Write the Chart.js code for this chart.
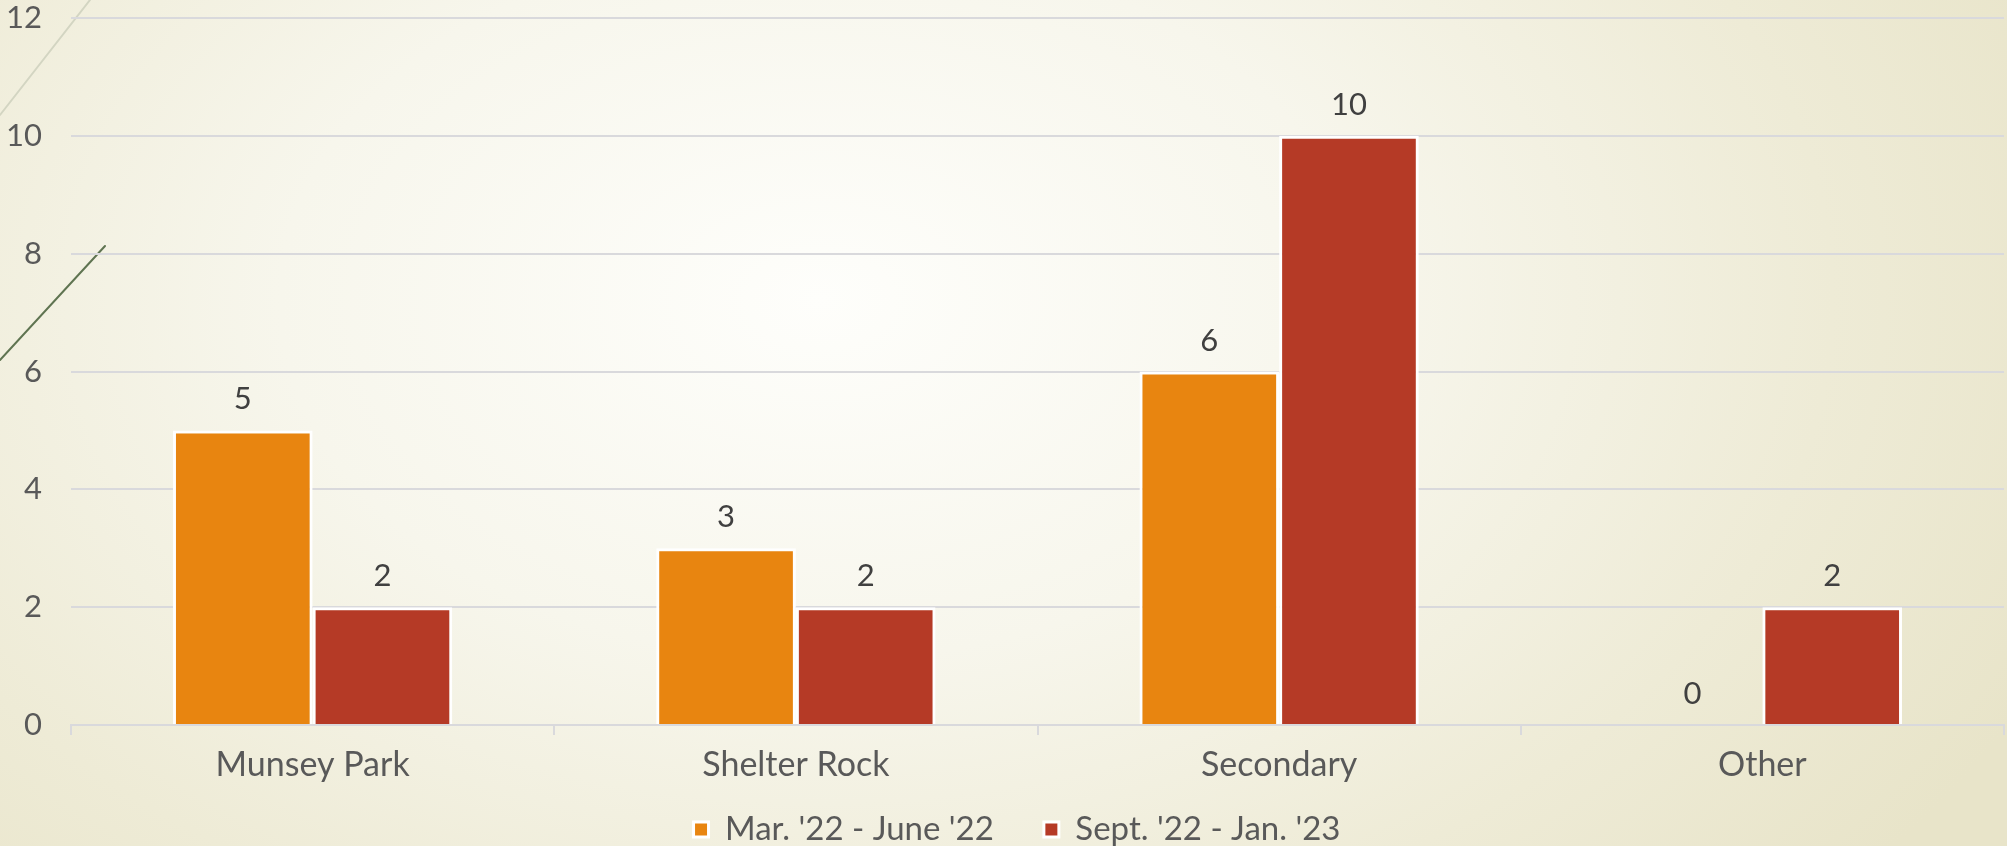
<!DOCTYPE html>
<html>
<head>
<meta charset="utf-8">
<script src="https://cdn.jsdelivr.net/npm/chart.js@4.4.1/dist/chart.umd.min.js"></script>
<style>
  html, body { margin: 0; padding: 0; }
  body { width: 2007px; height: 846px; overflow: hidden;
    background: radial-gradient(ellipse 1350px 900px at 820px 300px, #fefefb 0%, #f7f6ec 40%, #eeebd6 75%, #e8e4c9 100%); }
  #wrap { position: relative; width: 2007px; height: 846px; }
  canvas { display: block; }
</style>
</head>
<body>
<div id="wrap"><canvas id="c" width="2007" height="846"></canvas></div>
<script>
const categories = ["Munsey Park", "Shelter Rock", "Secondary", "Other"];
const seriesNames = ["Mar. '22 - June '22", "Sept. '22 - Jan. '23"];
const marJune22 = [5, 3, 6, 0];
const septJan23 = [2, 2, 10, 2];
const yTicks = [0, 2, 4, 6, 8, 10, 12];

const FONT = "Lato, 'Open Sans', sans-serif";

const decoPlugin = {
  id: 'deco',
  beforeDraw(chart) {
    const ctx = chart.ctx;
    ctx.save();
    ctx.lineCap = 'round';
    ctx.strokeStyle = '#d3d5c2';
    ctx.lineWidth = 2;
    ctx.beginPath(); ctx.moveTo(0, 115); ctx.lineTo(90, 0); ctx.stroke();
    ctx.strokeStyle = '#5f7451';
    ctx.lineWidth = 2;
    ctx.beginPath(); ctx.moveTo(0, 360); ctx.lineTo(105, 246); ctx.stroke();
    ctx.restore();
  }
};

const layoutTweak = {
  id: 'layoutTweak',
  afterLayout(chart) {
    if (chart.legend) {
      chart.legend.top += 10;
      chart.legend.bottom += 10;
      chart.legend.left += 15;
      chart.legend.right += 15;
    }
    const x = chart.scales.x;
    if (x) { x.bottom = chart.height; }
  }
};

const valueLabels = {
  id: 'valueLabels',
  afterDatasetsDraw(chart) {
    const ctx = chart.ctx;
    ctx.save();
    ctx.font = "31px " + FONT;
    ctx.fillStyle = '#404040';
    ctx.textAlign = 'center';
    ctx.textBaseline = 'middle';
    chart.data.datasets.forEach((ds, i) => {
      const meta = chart.getDatasetMeta(i);
      meta.data.forEach((bar, j) => {
        ctx.fillText(String(ds.data[j]), bar.x, bar.y - 31);
      });
    });
    ctx.restore();
  }
};

new Chart(document.getElementById('c'), {
  type: 'bar',
  data: {
    labels: categories,
    datasets: [
      { label: seriesNames[0], data: marJune22, backgroundColor: '#e88510', borderColor: '#ffffff', borderWidth: 3 },
      { label: seriesNames[1], data: septJan23, backgroundColor: '#b53a26', borderColor: '#ffffff', borderWidth: 3 }
    ]
  },
  options: {
    responsive: false,
    animation: false,
    devicePixelRatio: 1,
    layout: { padding: { top: 18, right: 3, left: 0, bottom: 0 } },
    datasets: { bar: { categoryPercentage: 0.578, barPercentage: 1.0 } },
    plugins: {
      legend: {
        position: 'bottom',
        labels: {
          font: { family: FONT, size: 33 },
          color: '#595959',
          boxWidth: 15, boxHeight: 15,
          padding: 50
        }
      },
      tooltip: { enabled: false }
    },
    scales: {
      x: {
        grid: { display: true, offset: true, drawOnChartArea: false, drawTicks: true, tickLength: 10, color: '#d9d9dc', lineWidth: 2 },
        border: { display: true, color: '#d9d9dc', width: 2 },
        ticks: { font: { family: FONT, size: 34 }, color: '#595959', padding: 10 },
        afterFit(s) { s.height = 28; }
      },
      y: {
        min: 0, max: 12,
        afterBuildTicks(s) { s.ticks = yTicks.map(v => ({ value: v })); },
        grid: { color: '#d9d9dc', lineWidth: 2, drawTicks: false },
        border: { display: false },
        ticks: { font: { family: FONT, size: 31 }, color: '#595959', padding: 29 },
        afterFit(s) { s.width = 71; s.paddingTop = 0; s.paddingBottom = 0; }
      }
    }
  },
  plugins: [decoPlugin, layoutTweak, valueLabels]
});
</script>
</body>
</html>
